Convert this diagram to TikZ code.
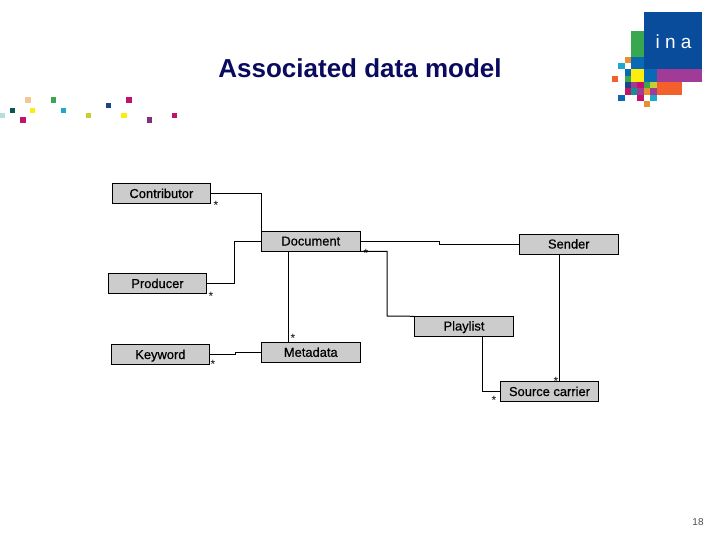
\documentclass[tikz,border=0pt]{standalone}
\usepackage{fontspec}
\usepackage{xcolor}
\setmainfont{Liberation Sans}
\newfontfamily\boxfont[FakeBold=0.6]{Liberation Sans}
\definecolor{titlenavy}{HTML}{0A0A5E}
\definecolor{boxgray}{HTML}{CCCCCC}
\definecolor{inablue}{HTML}{0A4C9C}
\definecolor{inamid}{HTML}{0A68B4}
\definecolor{inagreen}{HTML}{38A850}
\definecolor{inapurple}{HTML}{A03C98}
\definecolor{inared}{HTML}{F4602C}
\definecolor{inaorange}{HTML}{E89030}
\definecolor{inacyan}{HTML}{20A8CC}
\definecolor{inayellow}{HTML}{FCEC10}
\definecolor{inacrimson}{HTML}{C0146C}
\definecolor{inateal}{HTML}{109090}
\definecolor{inalime}{HTML}{C4D030}
\definecolor{inanavy}{HTML}{1C4488}
\tikzset{
  classbox/.style={draw=black, fill=boxgray, line width=0.9pt, outer sep=0pt, inner sep=0pt,
    minimum width=98.6pt, minimum height=20pt, text height=11pt, text depth=2.6pt,
    font=\boxfont\fontsize{12.9}{14}\selectfont},
  starlabel/.style={inner sep=0pt, font=\fontsize{12}{12}\selectfont},
  titlelabel/.style={inner sep=0pt, text=titlenavy, font=\fontsize{26}{30}\selectfont\bfseries},
  link/.style={line width=1pt, black},
}
\begin{document}
\begin{tikzpicture}[x=1pt, y=-1pt]
    \useasboundingbox (0,0) rectangle (720,540);
    \node[titlelabel] (title) at (360,68) {Associated data model};

    % logo
    \fill[inablue] (644,12.3) rectangle (701.7,69.3);
    \fill[inagreen] (631,31) rectangle (644,56.7);
    \fill[inamid] (631,56.7) rectangle (644,69.3);
    \fill[inayellow] (631,69.3) rectangle (644,82);
    \fill[inamid] (644,69.3) rectangle (656.7,82);
    \fill[inapurple] (656.7,69.3) rectangle (701.7,82);
    \fill[inared] (656.7,82) rectangle (682,94.7);
    \foreach \cx/\cy/\ccol in {624.7/56.7/inaorange, 618.3/63/inacyan, 624.7/69.3/inamid,
        624.7/75.6/inagreen, 612/75.6/inared, 624.7/82/inanavy, 631/82/inapurple,
        637.3/82/inacrimson, 644/82/inagreen, 650.3/82/inalime, 624.7/88.3/inacrimson,
        631/88.3/inateal, 637.3/88.3/inapurple, 644/88.3/inaorange, 650.3/88.3/inapurple,
        618.3/94.7/inamid, 637.3/94.7/inacrimson, 650.3/94.7/inacyan, 644/101/inaorange}
      \fill[\ccol] (\cx,\cy) rectangle ++(6.4,6.4);
    \node[inner sep=0pt, text=white, font=\fontsize{19}{19}\selectfont\addfontfeature{LetterSpace=28}] (ina) at (673.5,41.5) {ina};

    % dots
    \foreach \dx/\dy/\dcol in {28/100/inaorange!50, 53.3/100/inagreen, 129/100/inacrimson,
        108.7/105.3/inanavy, 12.7/110.3/inateal!60!black, 32.7/110.3/inayellow, 63.3/110.3/inacyan,
        2.7/115.3/inateal!30, 88.3/115.3/inalime, 124/115.3/inayellow, 23/120/inacrimson,
        149.3/120/inapurple!80!black, 174.3/115.3/inacrimson}
      \fill[\dcol] (\dx-2.7,\dy-2.7) rectangle ++(5.4,5.4);

    \node[classbox] (contributor) at (161.4,193.8) {Contributor};
    \node[classbox] (document) at (310.8,241.3) {Document};
    \node[classbox] (producer) at (157.5,283.8) {Producer};
    \node[classbox] (keyword) at (160.4,354.8) {Keyword};
    \node[classbox] (metadata) at (310.8,352.6) {Metadata};
    \node[classbox] (sender) at (568.8,244.3) {Sender};
    \node[classbox] (playlist) at (464,326.3) {Playlist};
    \node[classbox] (source) at (549.5,391.8) {Source carrier};

    \draw[link] (contributor.east) -| (document.north west);
    \draw[link] (producer.east) -| (234.5,241.3) -- (document.west);
    \draw[link] (keyword.east) -- (235.5,354.8) -- (235.5,352.6) -- (metadata.west);
    \draw[link] ([xshift=26.8pt]document.south west) -- ([xshift=26.8pt]metadata.north west);
    \draw[link] (document.east) -- (439,241.3) -- (439,244.3) -- (sender.west);
    \draw[link] (document.south east) -| (387,316) -- (playlist.north west);
    \draw[link] ([xshift=18pt]playlist.south) |- (source.west);
    \draw[link] ([xshift=-9.3pt]sender.south) -- ([xshift=10pt]source.north);

    \node[starlabel] (s1) at (216,205.5) {*};
    \node[starlabel] (s2) at (211,296) {*};
    \node[starlabel] (s3) at (213,364) {*};
    \node[starlabel] (s4) at (293,338) {*};
    \node[starlabel] (s5) at (366,253) {*};
    \node[starlabel] (s6) at (494,400) {*};
    \node[starlabel] (s7) at (556,381) {*};

    \node[inner sep=0pt, text=black!70, font=\fontsize{10}{10}\selectfont] (pagenum) at (698,522) {18};
\end{tikzpicture}
\end{document}
